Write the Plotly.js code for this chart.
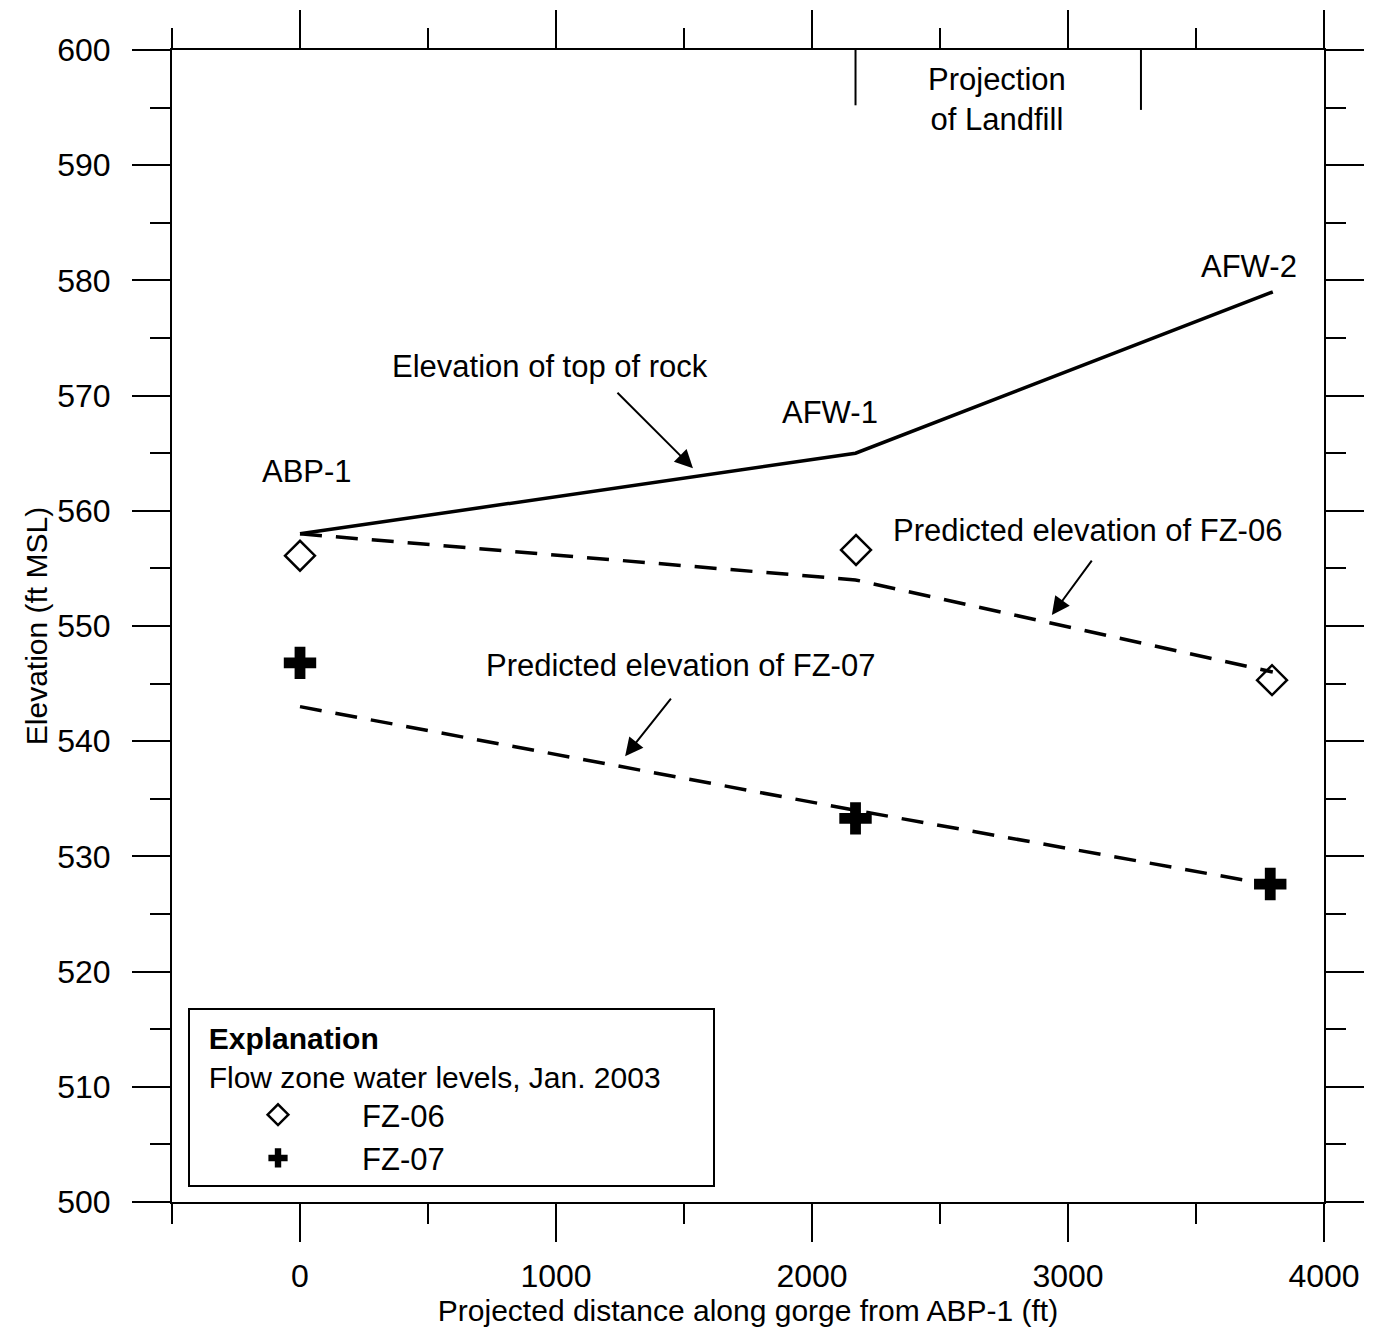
<!DOCTYPE html>
<html>
<head>
<meta charset="utf-8">
<script src="https://cdn.plot.ly/plotly-3.0.1.min.js"></script>
<style>
  html, body { margin: 0; padding: 0; background: #ffffff; }
  #chart { width: 1373px; height: 1333px; }
</style>
</head>
<body>
<div id="chart"></div>
<script>
// ---- data ----
const wellNames = ['ABP-1', 'AFW-1', 'AFW-2'];
const wellDistance = [0, 2170, 3800];            // ft along gorge
const rockElevation = [558, 565, 579];           // top of rock, ft MSL
const fz06Predicted = [558, 554, 546];           // predicted FZ-06 elevation
const fz07Predicted = [543, 534, 527.5];         // predicted FZ-07 elevation
const fz06Distance = [0, 2172, 3797];
const fz06Observed = [556.1, 556.6, 545.3];      // Jan. 2003 water levels
const fz07Distance = [0, 2170, 3790];
const fz07Observed = [546.8, 533.3, 527.6];
const landfillBounds = [2170, 3285];             // projection of landfill
const xTickVals = [0, 1000, 2000, 3000, 4000];
const yTickVals = [500, 510, 520, 530, 540, 550, 560, 570, 580, 590, 600];

const FONT = 'Liberation Sans, Arial, sans-serif';

const traces = [
  {
    x: wellDistance, y: rockElevation, type: 'scatter', mode: 'lines',
    line: {color: '#000', width: 3.5}, showlegend: false, hoverinfo: 'skip'
  },
  {
    x: wellDistance, y: fz06Predicted, type: 'scatter', mode: 'lines',
    line: {color: '#000', width: 3.5, dash: '22px,14px'}, showlegend: false, hoverinfo: 'skip'
  },
  {
    x: wellDistance, y: fz07Predicted, type: 'scatter', mode: 'lines',
    line: {color: '#000', width: 3.5, dash: '22px,14px'}, showlegend: false, hoverinfo: 'skip'
  },
  {
    x: fz06Distance, y: fz06Observed, type: 'scatter', mode: 'markers', name: 'FZ-06',
    marker: {symbol: 'diamond-open', size: 23, color: '#000', line: {color: '#000', width: 2.5}}
  },
  {
    x: fz07Distance, y: fz07Observed, type: 'scatter', mode: 'markers', name: 'FZ-07',
    marker: {symbol: 'cross', size: 27, color: '#000', line: {width: 0}}
  }
];

const annFont = {family: FONT, size: 31, color: '#000'};
const annotations = [
  {x: wellDistance[0] + 27, y: 563.4, text: wellNames[0]},
  {x: wellDistance[1] - 100, y: 568.5, text: wellNames[1]},
  {x: wellDistance[2] - 93, y: 581.2, text: wellNames[2]},
  {x: 977, y: 572.5, text: 'Elevation of top of rock'},
  {x: 3078, y: 558.3, text: 'Predicted elevation of FZ-06'},
  {x: 1488, y: 546.6, text: 'Predicted elevation of FZ-07'},
  {x: 2723, y: 595.7, text: 'Projection<br>of Landfill'}
].map(a => Object.assign({xref: 'x', yref: 'y', showarrow: false, font: annFont,
  xanchor: 'center', yanchor: 'middle'}, a));

// arrows (tip in data coords, tail as pixel offsets)
const arrows = [
  {x: 1535, y: 563.7, ax: -77, ay: -77},
  {x: 2937, y: 550.95, ax: 41, ay: -56},
  {x: 1270, y: 538.7, ax: 47, ay: -59}
].map(a => Object.assign({xref: 'x', yref: 'y', text: '', showarrow: true,
  arrowhead: 2, arrowsize: 1.8, arrowwidth: 2, arrowcolor: '#000'}, a));

const shapes = [
  {type: 'line', xref: 'x', yref: 'y', x0: landfillBounds[0], x1: landfillBounds[0], y0: 600, y1: 595.2,
   line: {color: '#000', width: 2}},
  {type: 'line', xref: 'x', yref: 'y', x0: landfillBounds[1], x1: landfillBounds[1], y0: 600, y1: 594.8,
   line: {color: '#000', width: 2}}
];

const axisCommon = {
  showgrid: false, zeroline: false, showline: true, linecolor: '#000', linewidth: 2,
  mirror: 'ticks', ticks: 'outside', ticklen: 38, tickwidth: 2, tickcolor: '#000',
  tickfont: {family: FONT, size: 32, color: '#000'}
};

const NB = '\u00a0\u00a0';
const NB_TAIL = '\u00a0\u00a0\u00a0\u00a0\u00a0\u00a0';
const layout = {
  width: 1373, height: 1333,
  margin: {l: 172, r: 49, t: 50, b: 131},
  paper_bgcolor: '#fff', plot_bgcolor: '#fff',
  font: {family: FONT, color: '#000'},
  xaxis: Object.assign({}, axisCommon, {
    range: [-500, 4000], tickmode: 'array', tickvals: xTickVals, ticklabelstandoff: 7,
    minor: {dtick: 500, tick0: 0, ticks: 'outside', ticklen: 20, tickwidth: 2, tickcolor: '#000'},
    title: {text: 'Projected distance along gorge from ABP-1 (ft)', font: {family: FONT, size: 30, color: '#000'}, standoff: 2}
  }),
  yaxis: Object.assign({}, axisCommon, {
    range: [500, 600], tickmode: 'array', tickvals: yTickVals, ticklabelstandoff: 15,
    minor: {dtick: 5, tick0: 500, ticks: 'outside', ticklen: 20, tickwidth: 2, tickcolor: '#000'},
    title: {text: 'Elevation (ft MSL)', font: {family: FONT, size: 30, color: '#000'}, standoff: 1}
  }),
  showlegend: true,
  legend: {
    x: 0.0139, y: 0.013, xanchor: 'left', yanchor: 'bottom',
    bgcolor: '#fff', bordercolor: '#000', borderwidth: 2,
    font: {family: FONT, size: 31, color: '#000'},
    title: {text: NB + '<b>Explanation</b><br>' + NB + 'Flow zone water levels, Jan. 2003' + NB_TAIL,
            font: {family: FONT, size: 30, color: '#000'}},
    itemwidth: 158, indentation: 4, tracegroupgap: 0
  },
  annotations: annotations.concat(arrows),
  shapes: shapes
};

Plotly.newPlot('chart', traces, layout, {staticPlot: true});
</script>
</body>
</html>
